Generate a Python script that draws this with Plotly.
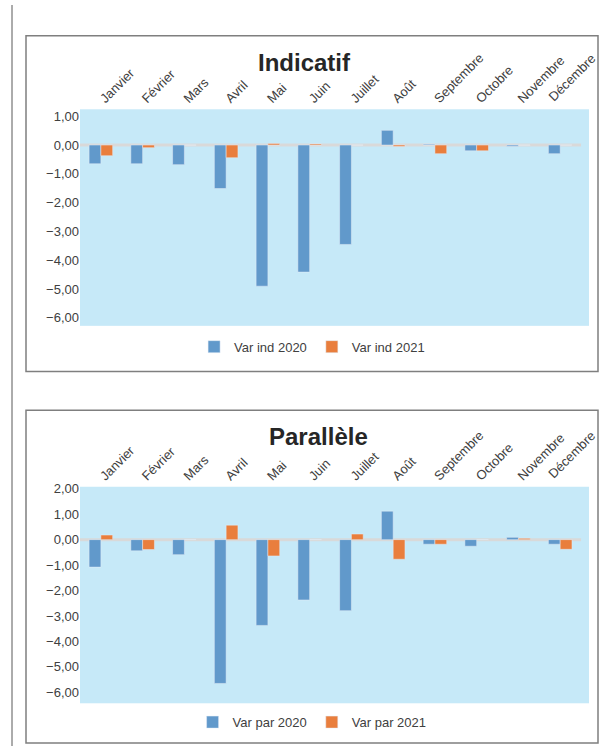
import plotly.graph_objects as go

# categories
mois = ["Janvier", "Février", "Mars", "Avril", "Mai", "Juin", "Juillet",
        "Août", "Septembre", "Octobre", "Novembre", "Décembre"]

# Indicatif
var_ind_2020 = [-0.65, -0.65, -0.68, -1.51, -4.90, -4.41, -3.45, 0.51, 0.03, -0.20, -0.04, -0.30]
var_ind_2021 = [-0.37, -0.09, 0.00, -0.44, 0.05, 0.04, 0.00, -0.05, -0.30, -0.20, 0.00, 0.00]

# Parallèle
var_par_2020 = [-1.08, -0.44, -0.59, -5.65, -3.37, -2.37, -2.79, 1.12, -0.18, -0.26, 0.09, -0.18]
var_par_2021 = [0.18, -0.39, 0.00, 0.57, -0.64, 0.00, 0.22, -0.77, -0.18, 0.00, 0.05, -0.38]

W, H = 606, 746
BLUE = "#6199CB"
ORANGE = "#E97E3D"
TXT = "#404040"
FONT = "Liberation Sans, Arial, sans-serif"


def px(x):
    return x / W


def py(y):
    return 1 - y / H


fig = go.Figure()

fig.add_trace(go.Bar(x=mois, y=var_ind_2020, name="Var ind 2020", marker_color=BLUE,
                     xaxis="x", yaxis="y", legend="legend"))
fig.add_trace(go.Bar(x=mois, y=var_ind_2021, name="Var ind 2021", marker_color=ORANGE,
                     xaxis="x", yaxis="y", legend="legend"))
fig.add_trace(go.Bar(x=mois, y=var_par_2020, name="Var par 2020", marker_color=BLUE,
                     xaxis="x2", yaxis="y2", legend="legend2"))
fig.add_trace(go.Bar(x=mois, y=var_par_2021, name="Var par 2021", marker_color=ORANGE,
                     xaxis="x2", yaxis="y2", legend="legend2"))

xr = [-0.5, 11.69]
# the last month label would run past the window edge (which makes the page wider),
# so it is placed as a separate annotation that ends just inside the edge
xax = dict(side="top", tickangle=-45, showgrid=False, zeroline=False, showline=False,
           ticks="", range=xr, domain=[px(80), px(589)],
           tickmode="array", tickvals=mois[:-1], ticktext=mois[:-1],
           tickfont=dict(size=13, color=TXT))
yax = dict(showgrid=False, zeroline=False, showline=False, ticks="",
           tickformat=".2f", tickfont=dict(size=13, color=TXT), dtick=1)

shapes = []
# page border line on the left
shapes.append(dict(type="line", xref="paper", yref="paper", x0=px(12), x1=px(12), y0=0, y1=1,
                   line=dict(color="#595959", width=1)))
# chart frames
for top, bot in [(31, 369), (408, 743)]:
    shapes.append(dict(type="rect", xref="paper", yref="paper",
                       x0=px(26), x1=px(598), y0=py(bot), y1=py(top),
                       line=dict(color="#7f7f7f", width=1.5), layer="below"))
# category axis lines at zero
for xa, ya in [("x", "y"), ("x2", "y2")]:
    shapes.append(dict(type="line", xref=xa, yref=ya, x0=-0.5, x1=11.5, y0=0, y1=0,
                       line=dict(color="#D9D9D9", width=3), layer="below"))

annotations = [
    dict(text="<b>Indicatif</b>", xref="paper", yref="paper", x=px(304), y=py(58),
         xanchor="center", yanchor="middle", showarrow=False,
         font=dict(size=24, color="#262626")),
    dict(text="<b>Parallèle</b>", xref="paper", yref="paper", x=px(318), y=py(434),
         xanchor="center", yanchor="middle", showarrow=False,
         font=dict(size=24, color="#262626")),
]
for ybot in [101, 481]:
    annotations.append(dict(text=mois[-1], xref="paper", yref="paper", x=px(600), y=py(ybot),
                            xanchor="right", yanchor="bottom", textangle=-45, borderpad=0,
                            showarrow=False, font=dict(size=13, color=TXT)))

fig.update_layout(
    width=W, height=H,
    margin=dict(l=0, r=0, t=0, b=0),
    paper_bgcolor="white",
    plot_bgcolor="#C6E9F8",
    separators=", ",
    font=dict(family=FONT, color=TXT, size=12),
    barmode="group", bargap=0.435, bargroupgap=0,
    xaxis=dict(xax, anchor="y"),
    yaxis=dict(yax, range=[-6.276, 1.241], domain=[py(323), py(105)], anchor="x"),
    xaxis2=dict(xax, anchor="y2"),
    yaxis2=dict(yax, range=[-6.43, 2.078], domain=[py(703), py(485)], anchor="x2"),
    legend=dict(orientation="h", x=0.515, xanchor="center", y=py(344), yanchor="middle",
                font=dict(size=13, color=TXT), itemwidth=30, bgcolor="rgba(0,0,0,0)"),
    legend2=dict(orientation="h", x=0.515, xanchor="center", y=py(722), yanchor="middle",
                 font=dict(size=13, color=TXT), itemwidth=30, bgcolor="rgba(0,0,0,0)"),
    shapes=shapes,
    annotations=annotations,
)

# no body margin, so the figure sits at the window origin
fig.write_html("out.html", config={"displayModeBar": False},
               post_script="document.body.style.margin='0';")
